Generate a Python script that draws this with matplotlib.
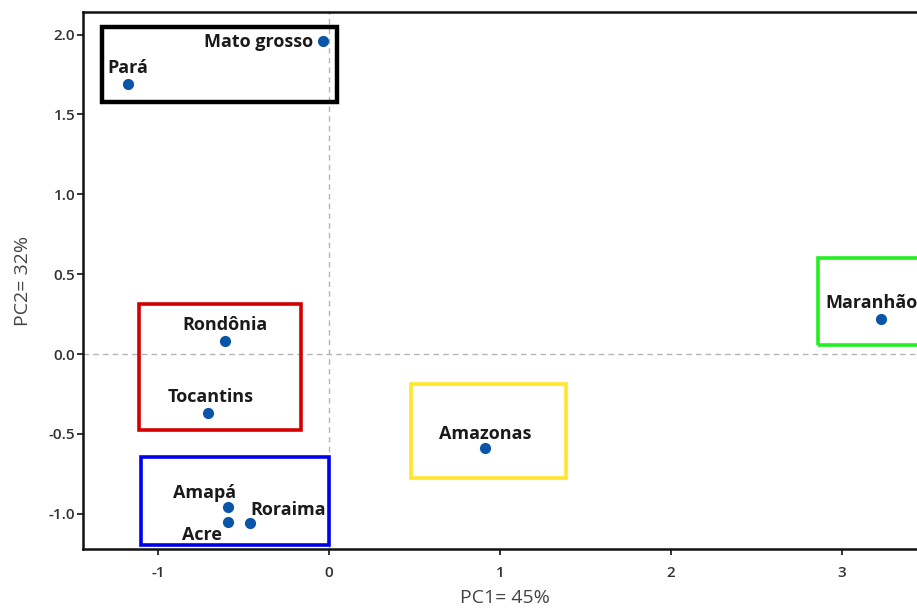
import matplotlib
matplotlib.use("Agg")
import matplotlib.pyplot as plt
from matplotlib.patches import Rectangle

plt.rcParams["font.family"] = ["Open Sans", "DejaVu Sans"]

# ── DATA ────────────────────────────────────────────────────────────────────
states = ["Mato grosso", "Pará", "Rondônia", "Tocantins", "Amapá",
          "Acre", "Roraima", "Amazonas", "Maranhão"]
pc1 = [-0.035, -1.175, -0.608, -0.708, -0.59, -0.59, -0.46, 0.912, 3.23]
pc2 = [1.96, 1.69, 0.08, -0.37, -0.96, -1.05, -1.06, -0.59, 0.22]

# label offsets in points (dx, dy) and alignment
label_pos = {
    "Mato grosso": (-7, -1, "right", "center"),
    "Pará": (0, 5, "center", "bottom"),
    "Rondônia": (0, 5, "center", "bottom"),
    "Tocantins": (2, 5, "center", "bottom"),
    "Amapá": (-17, 4, "center", "bottom"),
    "Acre": (-19, -3, "center", "top"),
    "Roraima": (0, 3, "left", "bottom"),
    "Amazonas": (0, 4, "center", "bottom"),
    "Maranhão": (-7, 5, "center", "bottom"),
}

# group boxes: (x0, y0, x1, y1, colour)
groups = [
    (-1.33, 1.58, 0.047, 2.05, "black"),
    (-1.11, -0.476, -0.164, 0.313, "#d40000"),
    (-1.10, -1.196, 0.0, -0.645, "#0000ee"),
    (0.48, -0.776, 1.386, -0.188, "#ffe62e"),
    (2.86, 0.056, 3.60, 0.60, "#22ee22"),
]

# ── PLOT ────────────────────────────────────────────────────────────────────
fig = plt.figure(figsize=(9.17, 6.12), dpi=100)
ax = fig.add_axes([0.0905, 0.103, 0.9205, 0.877])

ax.axhline(0, color="#b5b5b5", linestyle=(0, (4, 3)), linewidth=1.0, zorder=1)
ax.axvline(0, color="#b5b5b5", linestyle=(0, (4, 3)), linewidth=1.0, zorder=1)

for x0, y0, x1, y1, col in groups:
    lw = 3.2 if col == "black" else 2.6
    ax.add_patch(Rectangle((x0, y0), x1 - x0, y1 - y0, fill=False,
                           edgecolor=col, linewidth=lw, zorder=2))

ax.scatter(pc1, pc2, s=65, color="#0b55a8", zorder=3, linewidths=0)

for name, x, y in zip(states, pc1, pc2):
    dx, dy, ha, va = label_pos[name]
    ax.annotate(name, (x, y), xytext=(dx, dy), textcoords="offset points",
                ha=ha, va=va, fontsize=13, fontweight="bold",
                color="#1a1a1a", zorder=4)

ax.set_xlim(-1.44, 3.50)
ax.set_ylim(-1.22, 2.14)
ax.set_xticks([-1, 0, 1, 2, 3])
ax.set_yticks([-1.0, -0.5, 0.0, 0.5, 1.0, 1.5, 2.0])
ax.set_xticklabels(["-1", "0", "1", "2", "3"])
ax.set_yticklabels(["-1.0", "-0.5", "0.0", "0.5", "1.0", "1.5", "2.0"])
ax.tick_params(labelsize=11, colors="#333333", length=4, width=1.4,
               direction="out", pad=1.5)
ax.tick_params(axis="x", pad=8)
for lab in ax.get_xticklabels() + ax.get_yticklabels():
    lab.set_fontweight("semibold")

for side in ["left", "bottom", "top"]:
    ax.spines[side].set_linewidth(1.8)
    ax.spines[side].set_color("#111111")
ax.spines["right"].set_visible(False)

ax.set_xlabel("PC1= 45%", fontsize=14, color="#444444", labelpad=7)
ax.set_ylabel("PC2= 32%", fontsize=14, color="#444444", labelpad=12)

fig.savefig("out.png", dpi=100)
